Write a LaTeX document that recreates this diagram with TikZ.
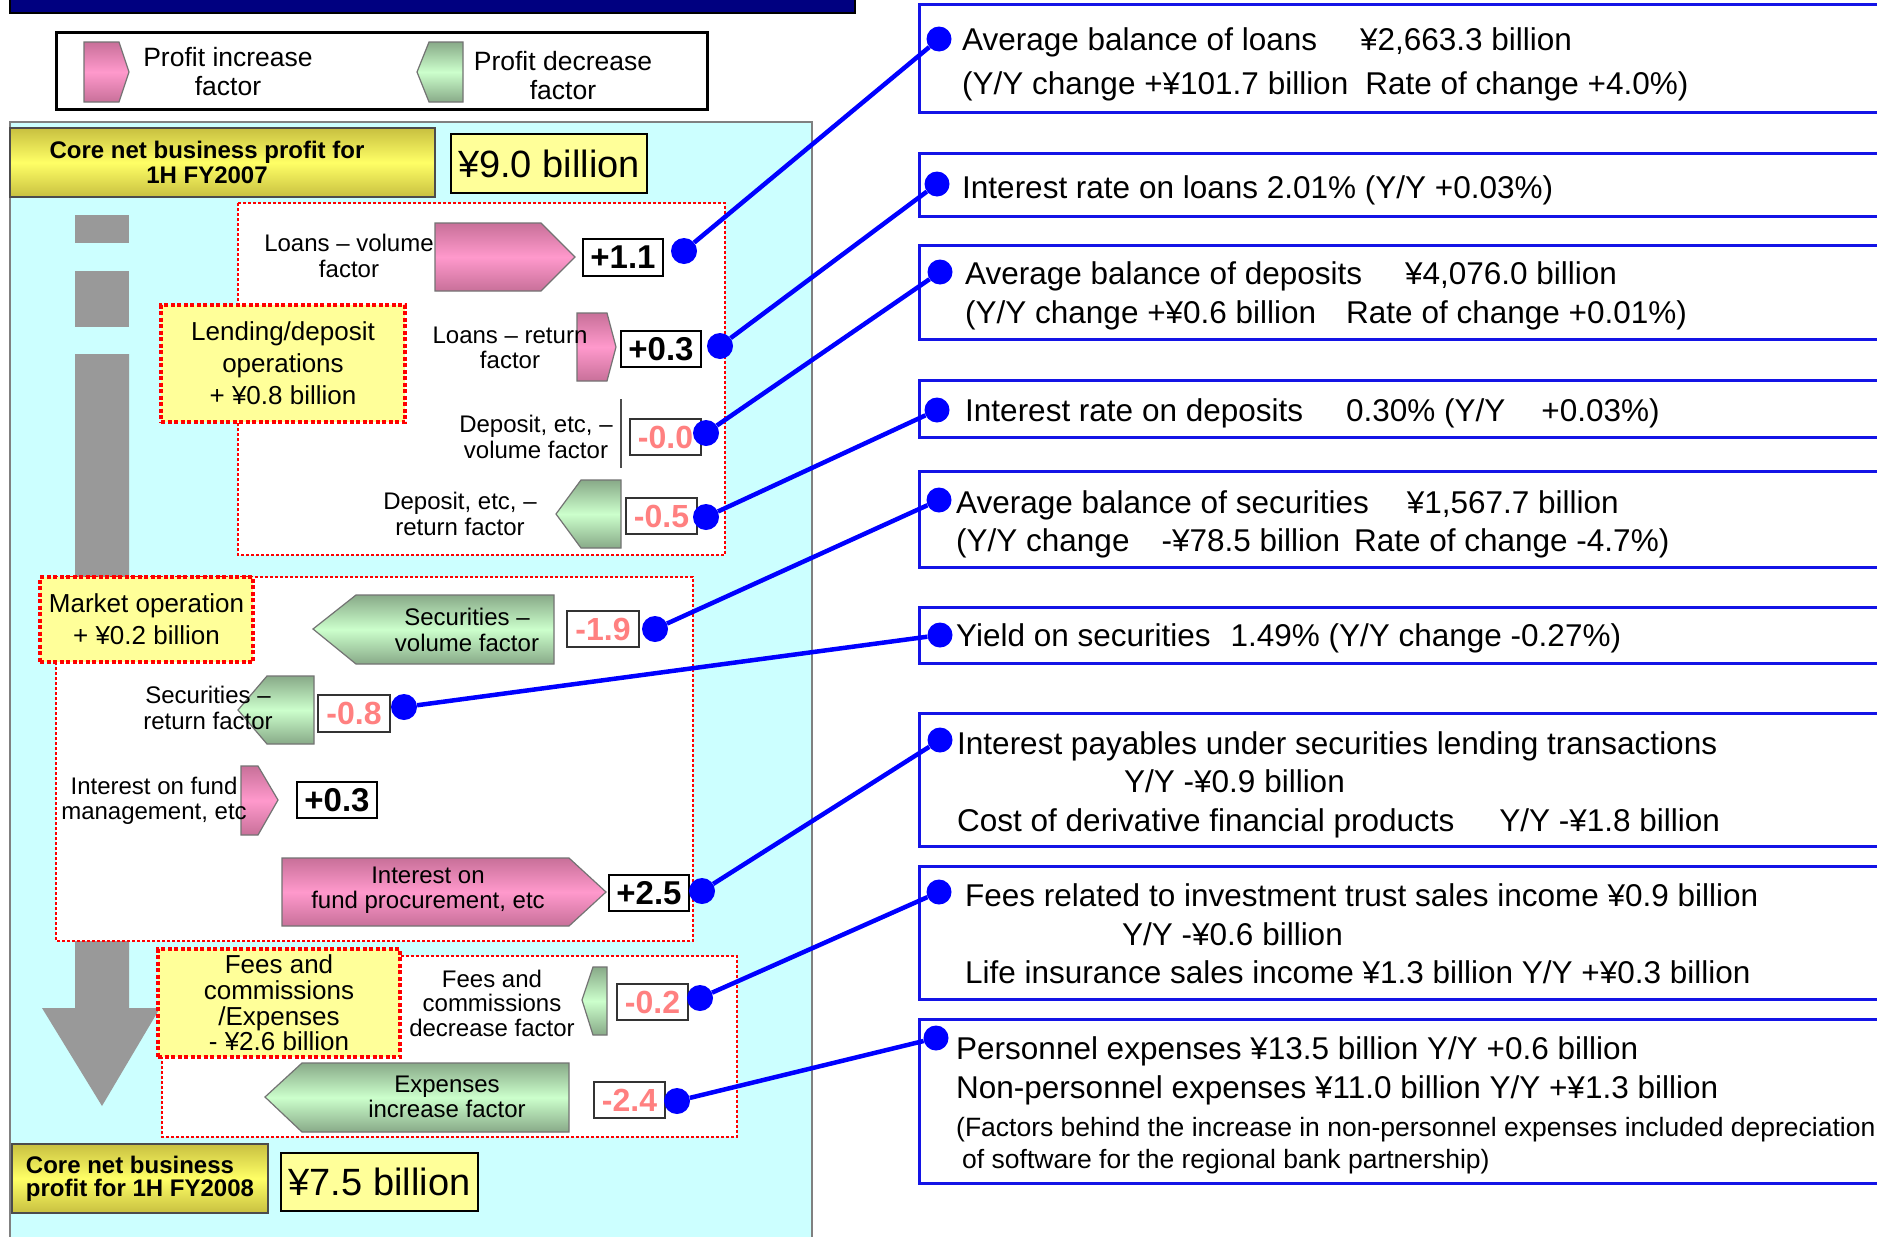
\documentclass[tikz,border=0pt]{standalone}
\usepackage{fontspec}
\setmainfont{Liberation Sans}
\definecolor{cyanbg}{RGB}{204,255,255}
\definecolor{navyb}{RGB}{0,0,128}
\definecolor{pkd}{RGB}{200,112,153}
\definecolor{pkl}{RGB}{255,153,204}
\definecolor{gnd}{RGB}{136,170,136}
\definecolor{gnl}{RGB}{204,255,204}
\definecolor{yld}{RGB}{200,192,64}
\definecolor{yll}{RGB}{255,255,102}
\definecolor{ylp}{RGB}{255,255,153}
\definecolor{grayb}{RGB}{153,153,153}
\definecolor{redv}{RGB}{255,128,128}
\definecolor{bl}{RGB}{0,0,255}
\definecolor{bbox}{RGB}{20,20,230}
\tikzset{
  pinkar/.style={draw=black!55, line width=1.2pt, top color=pkd, bottom color=pkd, middle color=pkl},
  greenar/.style={draw=black!55, line width=1.2pt, top color=gnd, bottom color=gnd, middle color=gnl},
  lbl/.style={inner sep=0pt, align=center, font=\fontsize{24}{25.5}\selectfont},
  ybox/.style={draw=red, line width=4pt, dash pattern=on 4pt off 2.5pt, fill=ylp, inner sep=0pt, align=center, font=\fontsize{26}{32}\selectfont},
  dbox/.style={draw=red, line width=2.5pt, dash pattern=on 3pt off 2pt, fill=white},
  vbox/.style={draw=black, line width=2pt, fill=white, inner sep=0pt, font=\bfseries\fontsize{33}{33}\selectfont},
  rvbox/.style={draw=black!80, line width=1.5pt, fill=white, inner sep=0pt, text=redv, font=\bfseries\fontsize{32}{32}\selectfont},
  dot/.style={circle, fill=bl, inner sep=0pt, minimum size=26pt},
  rdot/.style={circle, fill=bl, inner sep=0pt, minimum size=25pt},
  bline/.style={draw=bl, line width=4.5pt},
  rframe/.style={draw=bbox, line width=3pt, anchor=north west, minimum width=1000pt, inner sep=0pt},
  rt/.style={anchor=base west, inner sep=0pt, font=\fontsize{31.5}{36}\selectfont},
  rts/.style={anchor=base west, inner sep=0pt, font=\fontsize{26.5}{30}\selectfont},
  corebox/.style={draw=black!70, line width=1.5pt, top color=yld, bottom color=yld, middle color=yll, inner sep=0pt, font=\bfseries\fontsize{24}{25}\selectfont},
  coretxt/.style={inner sep=0pt, font=\bfseries\fontsize{24}{25}\selectfont},
  bigbox/.style={draw=black, line width=2.5pt, fill=ylp, inner sep=0pt, font=\fontsize{38}{40}\selectfont},
}
\begin{document}
\begin{tikzpicture}[x=1pt,y=-1pt]
\useasboundingbox (0,0) rectangle (1877,1237);
\clip (0,0) rectangle (1877,1237);
\fill[white] (0,0) rectangle (1877,1237);
% title bar
\draw[fill=navyb, draw=black, line width=1.5pt] (10,-5) rectangle (855,13);
% legend
\node[draw=black, line width=3pt, minimum width=651pt, minimum height=77pt, inner sep=0pt] (legend) at (381.5,70.5) {};
\path[pinkar] (84,42) -- (119,42) -- (129,72) -- (119,102) -- (84,102) -- cycle;
\node[inner sep=0pt, align=center, font=\fontsize{26.5}{29}\selectfont] (leginc) at (228,72) {Profit increase\\factor};
\path[greenar] (417,72) -- (429,42) -- (463,42) -- (463,102) -- (429,102) -- cycle;
\node[inner sep=0pt, align=center, font=\fontsize{26.5}{29}\selectfont] (legdec) at (563,76) {Profit decrease\\factor};
% cyan panel
\draw[fill=cyanbg, draw=black!50, line width=1.5pt] (10,122) rectangle (812,1260);
% core FY2007
\node[corebox, minimum width=425pt, minimum height=69pt] (c07) at (222.5,162.5) {};
\node[coretxt, align=center] (c07t) at (207,162.5) {Core net business profit for\\1H FY2007};
\node[bigbox, minimum width=196pt, minimum height=59pt] (v07) at (549,163.5) {¥9.0 billion};
% gray column
\fill[grayb] (75,215) rectangle (129,243);
\fill[grayb] (75,271) rectangle (129,327);
\fill[grayb] (75,354) -- (129,354) -- (129,1008) -- (160,1008) -- (102,1106) -- (42,1008) -- (75,1008) -- cycle;
% dotted group boxes
\draw[dbox] (238,203) rectangle (725,555);
\draw[dbox] (56,577) rectangle (693,941);
\draw[dbox] (162,956) rectangle (737,1137);
% group labels
\node[ybox, minimum width=244pt, minimum height=117pt] (glend) at (283,363.5) {Lending/deposit\\operations\\+ ¥0.8 billion};
\node[ybox, minimum width=213pt, minimum height=85pt] (gmkt) at (146.5,619.5) {Market operation\\+ ¥0.2 billion};
\node[ybox, minimum width=242pt, minimum height=108pt, font=\fontsize{26}{25.7}\selectfont] (gfee) at (279,1003) {Fees and\\commissions\\/Expenses\\- ¥2.6 billion};
% factor arrows
\path[pinkar] (435,223) -- (541,223) -- (575,257) -- (541,291) -- (435,291) -- cycle;
\path[pinkar] (577,313) -- (607,313) -- (616,347) -- (607,381) -- (577,381) -- cycle;
\draw[black!70, line width=1.5pt] (621,399) -- (621,468);
\path[greenar] (556,514) -- (581,480) -- (621,480) -- (621,548) -- (581,548) -- cycle;
\path[greenar] (313,629) -- (356,595) -- (554,595) -- (554,664) -- (356,664) -- cycle;
\path[greenar] (238,710) -- (267,676) -- (314,676) -- (314,744) -- (267,744) -- cycle;
\path[pinkar] (241,766) -- (258,766) -- (278,800) -- (258,835) -- (241,835) -- cycle;
\path[pinkar] (282,858) -- (569,858) -- (606,892) -- (569,926) -- (282,926) -- cycle;
\path[greenar] (582,1000) -- (593,967) -- (607,967) -- (607,1035) -- (593,1035) -- cycle;
\path[greenar] (265,1097) -- (302,1063) -- (569,1063) -- (569,1132) -- (302,1132) -- cycle;
% factor labels
\node[lbl] (tlv) at (349,256) {Loans – volume\\factor};
\node[lbl] (tlr) at (510,348) {Loans – return\\factor};
\node[lbl] (tdv) at (536,437) {Deposit, etc, –\\volume factor};
\node[lbl] (tdr) at (460,514) {Deposit, etc, –\\return factor};
\node[lbl] (tsv) at (467,630) {Securities –\\volume factor};
\node[lbl] (tsr) at (208,708) {Securities –\\return factor};
\node[lbl] (tim) at (154,801) {Interest on fund\\management, etc};
\node[lbl] (tip) at (428,890) {Interest on\\fund procurement, etc};
\node[lbl, font=\fontsize{24}{24.5}\selectfont] (tfd) at (492,1003) {Fees and\\commissions\\decrease factor};
\node[lbl] (tex) at (447,1097) {Expenses\\increase factor};
% value boxes
\node[vbox, minimum width=80pt, minimum height=37pt] (v1) at (623,257.5) {+1.1};
\node[vbox, minimum width=80pt, minimum height=36pt] (v2) at (661,349) {+0.3};
\node[rvbox, minimum width=71pt, minimum height=36pt] (v3) at (665.5,437) {-0.0};
\node[rvbox, minimum width=71pt, minimum height=36pt] (v4) at (661.5,516) {-0.5};
\node[rvbox, minimum width=72pt, minimum height=36pt] (v5) at (603,629) {-1.9};
\node[rvbox, minimum width=72pt, minimum height=37pt] (v6) at (354,713.5) {-0.8};
\node[vbox, minimum width=80pt, minimum height=36pt] (v7) at (337,800) {+0.3};
\node[vbox, minimum width=80pt, minimum height=36pt] (v8) at (649,893) {+2.5};
\node[rvbox, minimum width=71pt, minimum height=36pt] (v9) at (652.5,1002) {-0.2};
\node[rvbox, minimum width=71pt, minimum height=36pt] (v10) at (629.5,1100) {-2.4};
% core FY2008
\node[corebox, minimum width=256pt, minimum height=69pt, align=left, font=\bfseries\fontsize{24}{23}\selectfont] (c08) at (140,1178.5) {Core net business\\profit for 1H FY2008};
\node[bigbox, minimum width=197pt, minimum height=58pt] (v08) at (379.5,1182) {¥7.5 billion};
% right frames
\node[rframe, minimum height=108pt] (R1) at (918,3) {};
\node[rframe, minimum height=63pt] (R2) at (918,152) {};
\node[rframe, minimum height=94pt] (R3) at (918,244) {};
\node[rframe, minimum height=57pt] (R4) at (918,379) {};
\node[rframe, minimum height=96pt] (R5) at (918,470) {};
\node[rframe, minimum height=56pt] (R6) at (918,606) {};
\node[rframe, minimum height=133pt] (R7) at (918,712) {};
\node[rframe, minimum height=133pt] (R8) at (918,865) {};
\node[rframe, minimum height=164pt] (R9) at (918,1018) {};
% right texts
\node[rt] (t1a) at (962,50) {Average balance of loans\hspace{43pt}¥2,663.3 billion};
\node[rt] (t1b) at (962,94) {(Y/Y change +¥101.7 billion\hspace{17pt}Rate of change +4.0\%)};
\node[rt] (t2a) at (962,198) {Interest rate on loans 2.01\% (Y/Y +0.03\%)};
\node[rt] (t3a) at (965,284) {Average balance of deposits\hspace{43pt}¥4,076.0 billion};
\node[rt] (t3b) at (965,323) {(Y/Y change +¥0.6 billion\hspace{30pt}Rate of change +0.01\%)};
\node[rt] (t4a) at (965,421) {Interest rate on deposits\hspace{43pt}0.30\% (Y/Y\hspace{36pt}+0.03\%)};
\node[rt] (t5a) at (956,513) {Average balance of securities\hspace{38pt}¥1,567.7 billion};
\node[rt] (t5b) at (956,551) {(Y/Y change\hspace{32pt}-¥78.5 billion\hspace{14pt}Rate of change -4.7\%)};
\node[rt] (t6a) at (956,646) {Yield on securities\hspace{20pt}1.49\% (Y/Y change -0.27\%)};
\node[rt] (t7a) at (957,754) {Interest payables under securities lending transactions};
\node[rt] (t7b) at (1124,792) {Y/Y -¥0.9 billion};
\node[rt] (t7c) at (957,831) {Cost of derivative financial products\hspace{45pt}Y/Y -¥1.8 billion};
\node[rt] (t8a) at (965,906) {Fees related to investment trust sales income ¥0.9 billion};
\node[rt] (t8b) at (1122,945) {Y/Y -¥0.6 billion};
\node[rt] (t8c) at (965,983) {Life insurance sales income ¥1.3 billion Y/Y +¥0.3 billion};
\node[rt] (t9a) at (956,1059) {Personnel expenses ¥13.5 billion Y/Y +0.6 billion};
\node[rt] (t9b) at (956,1098) {Non-personnel expenses ¥11.0 billion Y/Y +¥1.3 billion};
\node[rts] (t9c) at (956,1136.5) {(Factors behind the increase in non-personnel expenses included depreciation};
\node[rts] (t9d) at (962,1168.5) {of software for the regional bank partnership)};
% dots
\node[dot] (d1) at (684,251) {};
\node[dot] (d2) at (720,346) {};
\node[dot] (d3) at (706,433) {};
\node[dot] (d4) at (706,517) {};
\node[dot] (d5) at (655,629) {};
\node[dot] (d6) at (404,707) {};
\node[dot] (d7) at (702,891) {};
\node[dot] (d8) at (700,998) {};
\node[dot] (d9) at (677,1101) {};
\node[rdot] (r1) at (939,39) {};
\node[rdot] (r2) at (937,184) {};
\node[rdot] (r3) at (940,272) {};
\node[rdot] (r4) at (937,410) {};
\node[rdot] (r5) at (939,500) {};
\node[rdot] (r6) at (940,635) {};
\node[rdot] (r7) at (940,740) {};
\node[rdot] (r8) at (939,892) {};
\node[rdot] (r9) at (936,1038) {};
% connectors
\draw[bline] (d1) -- (r1);
\draw[bline] (d2) -- (r2);
\draw[bline] (d3) -- (r3);
\draw[bline] (d4) -- (r4);
\draw[bline] (d5) -- (r5);
\draw[bline] (d6) -- (r6);
\draw[bline] (d7) -- (r7);
\draw[bline] (d8) -- (r8);
\draw[bline] (d9) -- (r9);
\end{tikzpicture}
\end{document}
